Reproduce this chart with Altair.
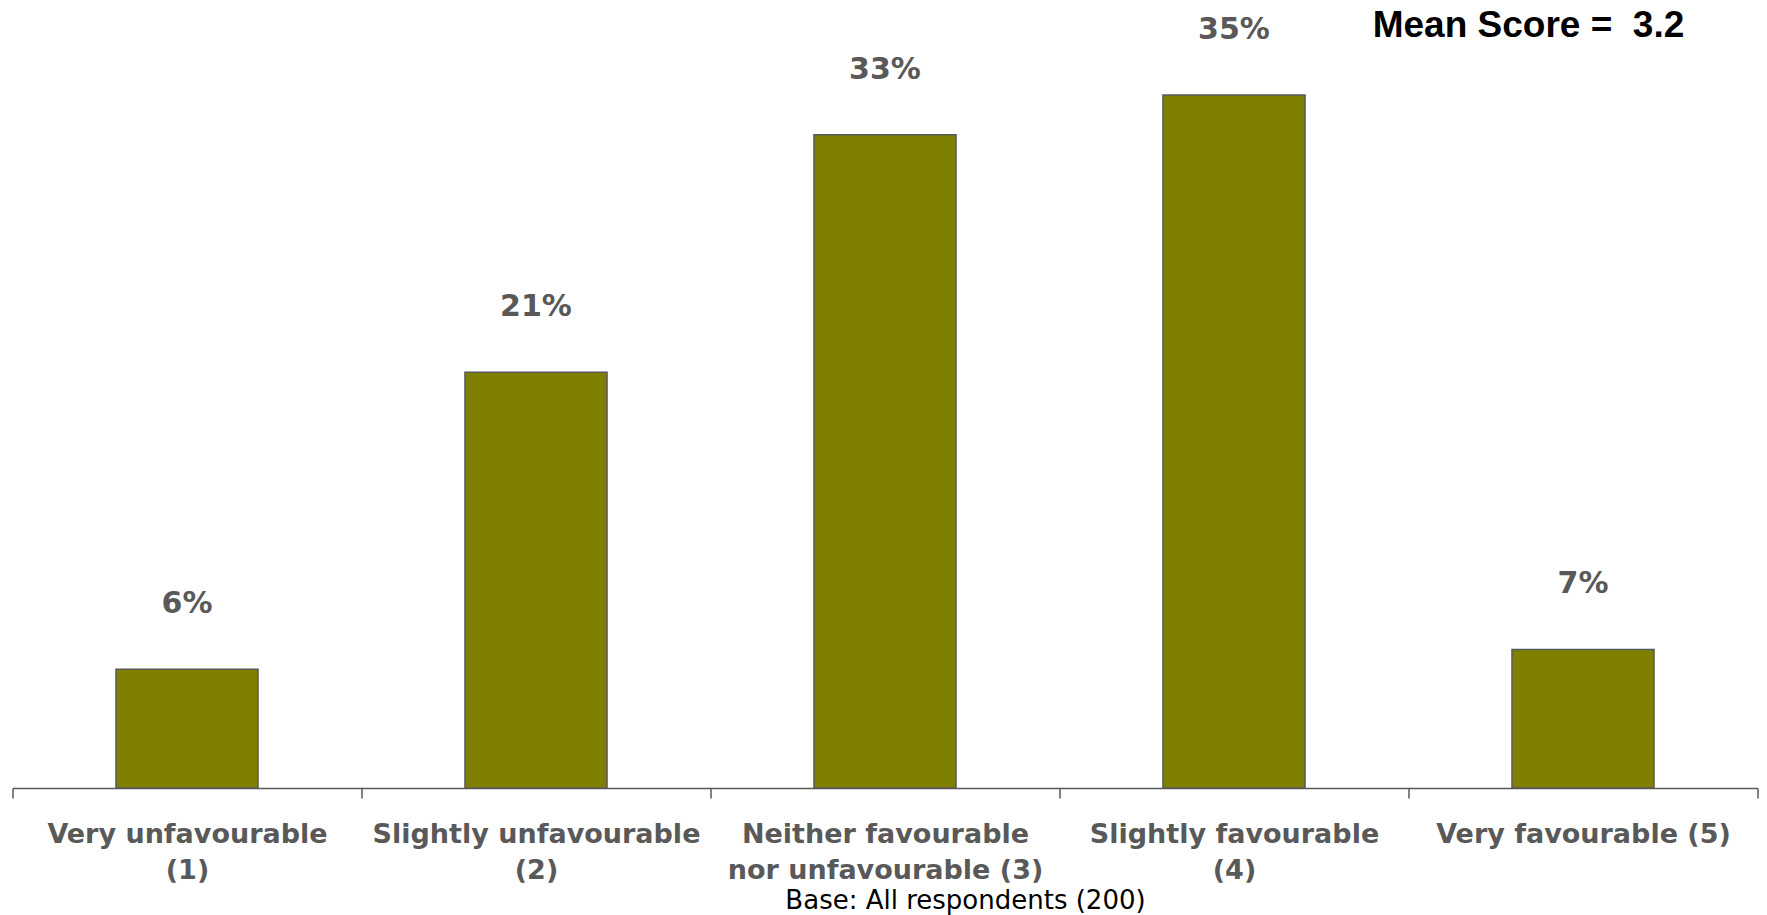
import altair as alt
import pandas as pd

# Response categories (line breaks mark where each axis label wraps)
categories = [
    "Very unfavourable\n(1)",
    "Slightly unfavourable\n(2)",
    "Neither favourable\nnor unfavourable (3)",
    "Slightly favourable\n(4)",
    "Very favourable (5)",
]
scores = [1, 2, 3, 4, 5]
percentages = [6, 21, 33, 35, 7]
base_note = "Base: All respondents (200)"

mean_score = sum(s * p for s, p in zip(scores, percentages)) / sum(percentages)

df = pd.DataFrame({"category": categories, "pct": percentages})
df["label"] = [f"{p}%" for p in percentages]

GREY = "#595959"
OLIVE = "#808000"

x_enc = alt.X(
    "category:N",
    sort=categories,
    scale=alt.Scale(paddingInner=0, paddingOuter=0),
    axis=alt.Axis(
        title=None,
        labelExpr="split(datum.label, '\\n')",
        labelAngle=0,
        labelFont="DejaVu Sans",
        labelFontWeight="bold",
        labelFontSize=27,
        labelColor=GREY,
        labelLineHeight=36,
        labelBaseline="top",
        labelPadding=23,
        labelLimit=500,
        labelOverlap=False,
        labelFlush=False,
        tickBand="extent",
        tickSize=10,
        tickColor=GREY,
        tickWidth=1.5,
        domainColor=GREY,
        domainWidth=1.5,
    ),
)
y_enc = alt.Y(
    "pct:Q",
    scale=alt.Scale(domain=[0, 39.4], nice=False, zero=True),
    axis=None,
)

bars = alt.Chart(df).mark_bar(
    color=OLIVE,
    stroke=GREY,
    strokeWidth=1.5,
    width=alt.RelativeBandSize(0.407),
).encode(x=x_enc, y=y_enc)

values = alt.Chart(df).mark_text(
    font="DejaVu Sans",
    fontWeight="bold",
    fontSize=30,
    color=GREY,
    baseline="middle",
    dy=-65,
).encode(x=alt.X("category:N", sort=categories), y="pct:Q", text="label:N")

mean_df = pd.DataFrame({"text": [f"Mean Score =\u00a0 {mean_score:.1f}"]})
mean_text = alt.Chart(mean_df).mark_text(
    font="Liberation Sans",
    fontWeight="bold",
    fontSize=37,
    color="black",
    align="center",
    baseline="middle",
).encode(x=alt.value(1516), y=alt.value(18), text="text:N")

base_df = pd.DataFrame({"text": [base_note]})
base_text = alt.Chart(base_df).mark_text(
    font="DejaVu Sans",
    fontSize=26,
    color="black",
    align="center",
    baseline="middle",
).encode(x=alt.value(953), y=alt.value(893), text="text:N")

chart = (
    alt.layer(bars, values, mean_text, base_text)
    .properties(
        width=1745,
        height=780,
        background="white",
        autosize=alt.AutoSizeParams(type="none"),
        padding={"left": 12.5, "top": 8, "right": 9.5, "bottom": 127},
    )
    .configure_view(stroke=None)
)

chart.save("out.html", embed_options={"renderer": "svg", "actions": False})
